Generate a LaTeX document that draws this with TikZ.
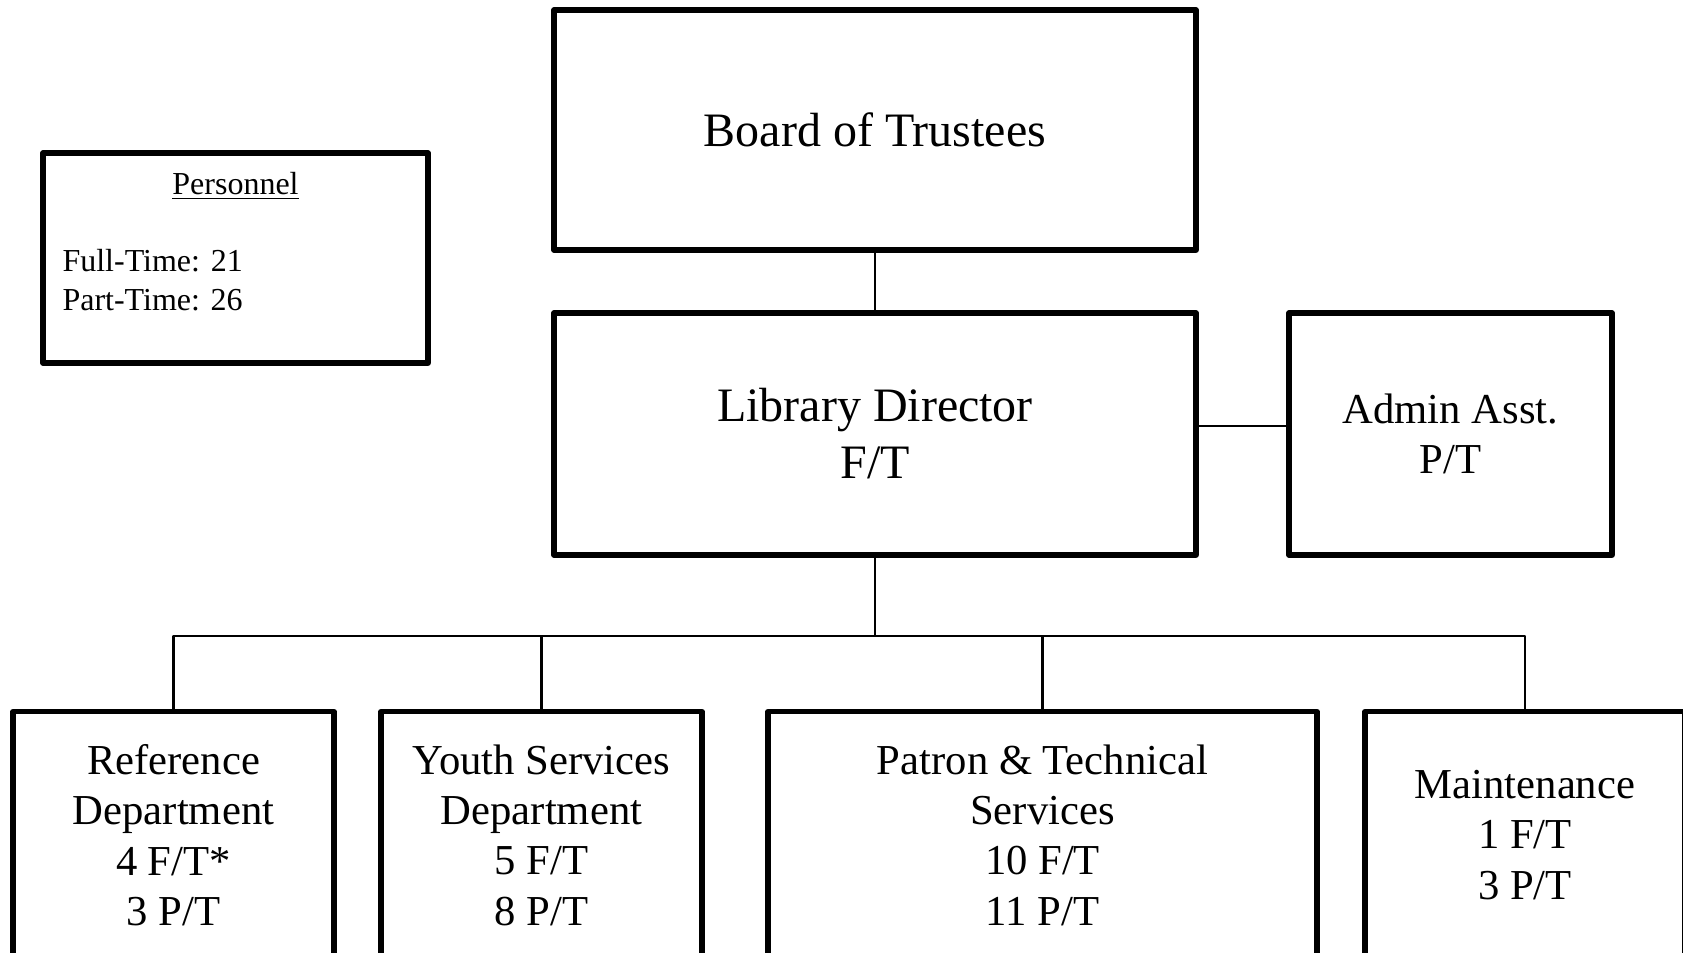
\documentclass[tikz,border=0pt]{standalone}
\usepackage{fontspec}
\setmainfont{Liberation Serif}

\begin{document}
\begin{tikzpicture}[line cap=round,line join=round,x=0.375pt,y=-0.375pt,
	box/.style 2 args={draw,line width=1.9pt,inner sep=0pt,outer sep=0pt,align=center,
		minimum width=#1*0.375pt,minimum height=#2*0.375pt},
	big/.style={font=\fontsize{18}{21.4}\selectfont},
	mid/.style={font=\fontsize{16}{18.9}\selectfont},
	small/.style={font=\fontsize{12}{14.9}\selectfont},
	link/.style={line width=0.8pt,line cap=butt}]
	\useasboundingbox (0,0) rectangle (1683,952);
	\clip (0,0) rectangle (1683,952);
	\node[box={642}{240},big] (board) at (875,130) {Board of Trustees};
	\node[box={642}{242},big] (director) at (875,434) {Library Director\\F/T};
	\node[box={323}{242},mid] (admin) at (1450.5,434) {Admin Asst.\\P/T};
	\node[box={385}{210}] (personnel) at (235.5,258) {};
	\node[small] (perstitle) at (235.5,186) {\underline{Personnel}};
	\node[small,anchor=west,inner sep=0pt] (fulltime) at (62,261) {Full-Time: 21};
	\node[small,anchor=west,inner sep=0pt] (parttime) at (62,300) {Part-Time: 26};
	\node[box={321}{247},mid] (ref) at (173.5,835) {Reference\\Department\\4 F/T*\\3 P/T};
	\node[box={321}{247},mid] (youth) at (541.5,835) {Youth Services\\Department\\5 F/T\\8 P/T};
	\node[box={549}{247},mid] (patron) at (1042.5,835) {Patron \& Technical\\Services\\10 F/T\\11 P/T};
	\node[box={320}{247},mid] (maint) at (1525,835) {Maintenance\\1 F/T\\3 P/T};
	\coordinate (bus) at (875,636);
	\draw[link] (board) -- (director);
	\draw[link] ([yshift=3pt]director.east) -- ([yshift=3pt]admin.west);
	\draw[link] (director) -- (bus);
	\draw[link] (ref.north) |- (bus) -| (maint.north);
	\foreach \dept in {youth,patron}
		\draw[link] (\dept.north) -- (\dept.north |- bus);
\end{tikzpicture}
\end{document}
